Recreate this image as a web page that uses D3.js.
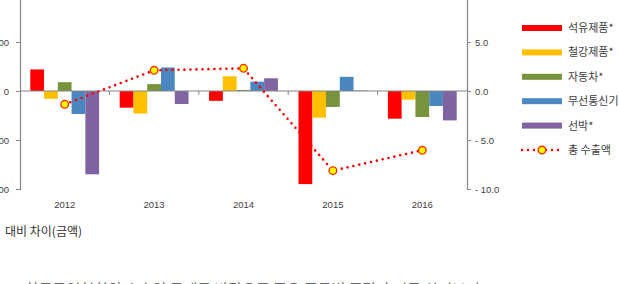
<!DOCTYPE html>
<html>
<head>
<meta charset="utf-8">
<script src="https://cdn.jsdelivr.net/npm/d3@7"></script>
<style>
  body { margin: 0; background: #fff; }
  svg text { font-family: "Liberation Sans", Arial, sans-serif; }
  .kr { font-family: "Noto Sans CJK KR", sans-serif; }
</style>
</head>
<body>
<svg id="chart" width="619" height="284"></svg>
<script>
var years = ["2012", "2013", "2014", "2015", "2016"];
var items = ["석유제품*", "철강제품*", "자동차*", "무선통신기기*", "선박*"];
var itemColors = ["#ff0000", "#ffc000", "#77933c", "#4a86c0", "#8064a2"];
// 품목별 전년 대비 차이(금액)
var oil = [440, -340, -200, -1900, -565];
var steel = [-160, -460, 300, -545, -175];
var cars = [180, 140, 20, -325, -530];
var wireless = [-470, 480, 190, 290, -305];
var ships = [-1700, -265, 260, 10, -600];
// 총 수출액 증감률
var totalExport = [-1.36, 2.11, 2.31, -8.13, -6.05];
var leftTicks = [-2000, -1000, 0, 1000, 2000];
var rightTicks = [-10, -5, 0, 5, 10];
var totalLabel = "총 수출액";

var svg = d3.select("#chart");
var left = 20, right = 467;
var series = [oil, steel, cars, wireless, ships];

var x0 = d3.scaleBand().domain(years).range([left, right]).paddingInner(0.23).paddingOuter(0.115);
var xc = d3.scaleBand().domain(years).range([left, right]);
var x1 = d3.scaleBand().domain(d3.range(items.length)).range([0, x0.bandwidth()]);
var yL = d3.scaleLinear().domain([-2000, 2000]).range([189, -7]);
var yR = d3.scaleLinear().domain([-10, 10]).range([189, -7]);

// bars
series.forEach(function (vals, s) {
    svg.append("g").selectAll("rect").data(vals).enter()
        .append("rect")
        .attr("x", function (d, i) { return x0(years[i]) + x1(s); })
        .attr("y", function (d) { return Math.min(yL(d), yL(0)); })
        .attr("width", x1.bandwidth())
        .attr("height", function (d) { return Math.abs(yL(d) - yL(0)); })
        .style("fill", itemColors[s]);
});

// left axis
var axL = d3.axisLeft(yL).tickValues(leftTicks).tickSize(4).tickPadding(7)
    .tickFormat(function (d) { return d3.format(",")(d); });
var gL = svg.append("g").attr("transform", "translate(" + left + ",0)").call(axL);
// right axis
var axR = d3.axisRight(yR).tickValues(rightTicks).tickSize(4).tickPadding(4)
    .tickFormat(function (d) { return d < 0 ? "- " + d3.format(".1f")(-d) : d3.format(".1f")(d); });
var gR = svg.append("g").attr("transform", "translate(" + right + ",0)").call(axR);
[gL, gR].forEach(function (g) {
    g.select(".domain").attr("stroke", "#868686").attr("stroke-width", 1.2);
    g.selectAll(".tick line").attr("stroke", "#868686");
    g.selectAll(".tick text").attr("fill", "#404040").style("font-size", "9.5px");
});

// zero line with category ticks
svg.append("line").attr("x1", left).attr("x2", right)
    .attr("y1", yL(0)).attr("y2", yL(0))
    .attr("stroke", "#868686").attr("stroke-width", 1.2);
svg.append("g").selectAll("line").data(years.slice(1)).enter()
    .append("line")
    .attr("x1", function (d) { return xc(d); }).attr("x2", function (d) { return xc(d); })
    .attr("y1", yL(0)).attr("y2", yL(0) + 4)
    .attr("stroke", "#868686");

// category labels
svg.append("g").selectAll("text").data(years).enter()
    .append("text")
    .attr("x", function (d) { return xc(d) + xc.bandwidth() / 2; })
    .attr("y", 208)
    .attr("text-anchor", "middle")
    .attr("fill", "#404040")
    .style("font-size", "9.5px")
    .text(function (d) { return d; });

// total export line
var line = d3.line()
    .x(function (d, i) { return xc(years[i]) + xc.bandwidth() / 2; })
    .y(function (d) { return yR(d); });
svg.append("path").datum(totalExport)
    .attr("d", line)
    .attr("fill", "none")
    .attr("stroke", "#ff0000")
    .attr("stroke-width", 2.6)
    .attr("stroke-linecap", "round")
    .attr("stroke-dasharray", "0 6");
svg.append("g").selectAll("circle").data(totalExport).enter()
    .append("circle")
    .attr("cx", function (d, i) { return xc(years[i]) + xc.bandwidth() / 2; })
    .attr("cy", function (d) { return yR(d); })
    .attr("r", 3.8)
    .attr("fill", "#ffff00")
    .attr("stroke", "#ff3000")
    .attr("stroke-width", 1.4);

// legend
var legend = svg.append("g");
var ly = d3.scalePoint().domain(d3.range(items.length + 1)).range([28, 150]);
items.forEach(function (name, i) {
    legend.append("rect")
        .attr("x", 522).attr("y", ly(i) - 3)
        .attr("width", 40).attr("height", 6)
        .style("fill", itemColors[i]);
    legend.append("text").attr("class", "kr")
        .attr("x", 568).attr("y", ly(i) + 4)
        .attr("fill", "#404040")
        .style("font-size", "11px")
        .text(name);
});
var n = items.length;
legend.append("line")
    .attr("x1", 522).attr("x2", 562)
    .attr("y1", ly(n)).attr("y2", ly(n))
    .attr("stroke", "#ff0000").attr("stroke-width", 2.6)
    .attr("stroke-linecap", "round").attr("stroke-dasharray", "0 6");
legend.append("circle")
    .attr("cx", 542).attr("cy", ly(n)).attr("r", 3.8)
    .attr("fill", "#ffff00").attr("stroke", "#ff3000").attr("stroke-width", 1.4);
legend.append("text").attr("class", "kr")
    .attr("x", 568).attr("y", ly(n) + 4)
    .attr("fill", "#404040")
    .style("font-size", "11px")
    .text(totalLabel);

// caption below
svg.append("text").attr("class", "kr")
    .attr("x", 5).attr("y", 236)
    .attr("fill", "#333")
    .style("font-size", "12px")
    .text("대비 차이(금액)");
svg.append("text").attr("class", "kr")
    .attr("x", 25).attr("y", 295)
    .attr("fill", "#666")
    .style("font-size", "15px")
    .text("한국무역협회의 수출입 통계를 바탕으로 주요 품목별 증감 추이를 살펴보면");
</script>
</body>
</html>
